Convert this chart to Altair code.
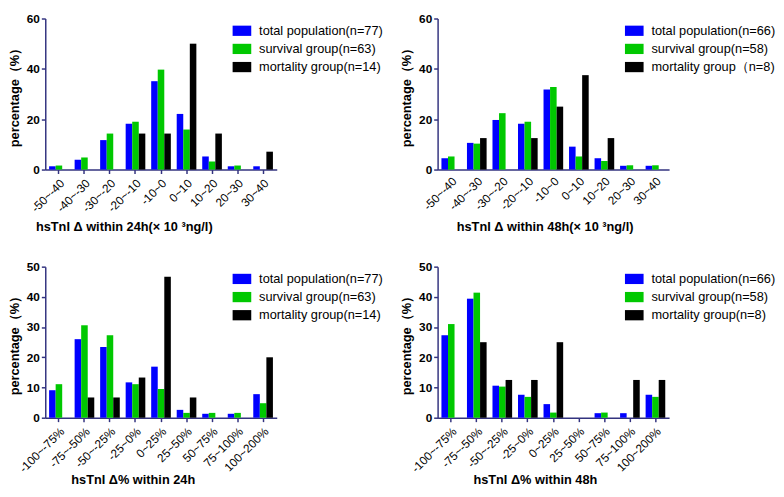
import altair as alt
import pandas as pd

cats_abs = ["-50~-40", "-40~-30", "-30~-20", "-20~-10", "-10~0", "0~10", "10~20", "20~30", "30~40"]
cats_pct = ["-100~-75%", "-75~-50%", "-50~-25%", "-25~0%", "0~25%", "25~50%", "50~75%", "75~100%", "100~200%"]

names_24 = ["total population(n=77)", "survival group(n=63)", "mortality group(n=14)"]
names_48 = ["total population(n=66)", "survival group(n=58)", "mortality group（n=8)"]
names_24p = ["total population(n=77)", "survival group(n=63)", "mortality group(n=14)"]
names_48p = ["total population(n=66)", "survival group(n=58)", "mortality group(n=8)"]

# panel 1: hsTnI delta within 24h
abs24_total = [1.3, 3.9, 11.7, 18.2, 35.1, 22.1, 5.2, 1.3, 1.3]
abs24_surv = [1.6, 4.8, 14.3, 19.0, 39.7, 15.9, 3.2, 1.6, 0.0]
abs24_mort = [0.0, 0.0, 0.0, 14.3, 14.3, 50.0, 14.3, 0.0, 7.1]

# panel 2: hsTnI delta within 48h
abs48_total = [4.5, 10.6, 19.7, 18.2, 31.8, 9.1, 4.5, 1.5, 1.5]
abs48_surv = [5.2, 10.3, 22.4, 19.0, 32.8, 5.2, 3.4, 1.7, 1.7]
abs48_mort = [0.0, 12.5, 0.0, 12.5, 25.0, 37.5, 12.5, 0.0, 0.0]

# panel 3: hsTnI delta% within 24h
pct24_total = [9.1, 26.0, 23.4, 11.7, 16.9, 2.6, 1.3, 1.3, 7.8]
pct24_surv = [11.1, 30.6, 27.3, 11.1, 9.5, 1.6, 1.6, 1.6, 4.8]
pct24_mort = [0.0, 6.7, 6.7, 13.3, 46.7, 6.7, 0.0, 0.0, 20.0]

# panel 4: hsTnI delta% within 48h
pct48_total = [27.3, 39.4, 10.6, 7.6, 4.5, 0.0, 1.5, 1.5, 7.6]
pct48_surv = [31.0, 41.4, 10.3, 6.9, 1.7, 0.0, 1.7, 0.0, 6.9]
pct48_mort = [0.0, 25.0, 12.5, 12.5, 25.0, 0.0, 0.0, 12.5, 12.5]

colors = ["#0000FF", "#00C800", "#000000"]
FONT = "Liberation Sans"
AXIS_COLOR = "#33337f"
W, H = 236, 154


def panel(cats, names, series, ymax, ystep, xtitle, title_x, title_y, xticks=True, label_pad=4):
    rows = []
    for name, vals in zip(names, series):
        for c, v in zip(cats, vals):
            rows.append({"cat": c, "grp": name, "val": v})
    df = pd.DataFrame(rows)
    yvals = list(range(0, ymax + 1, ystep))
    return alt.Chart(df).mark_bar().encode(
        x=alt.X("cat:N", sort=cats,
                scale=alt.Scale(paddingInner=0.23, paddingOuter=0.15),
                axis=alt.Axis(title=xtitle, labelAngle=-45, labelFontSize=12,
                              labelFont=FONT, labelColor="#000000",
                              ticks=xticks, tickSize=4, labelPadding=label_pad,
                              titleFont=FONT, titleFontSize=13, titleFontWeight="bold",
                              titleColor="#000000", titleAnchor="start",
                              titleX=title_x, titleY=title_y,
                              titleBaseline="middle", titleAlign="left")),
        xOffset=alt.XOffset("grp:N", sort=names,
                            scale=alt.Scale(paddingInner=0, paddingOuter=0)),
        y=alt.Y("val:Q", scale=alt.Scale(domain=[0, ymax], nice=False),
                axis=alt.Axis(title="percentage（%）", values=yvals, labelFontSize=12,
                              labelFontWeight="bold", labelFont=FONT, labelColor="#000000",
                              tickSize=4, labelPadding=2, titlePadding=5,
                              titleFont=FONT, titleFontSize=13, titleFontWeight="bold",
                              titleColor="#000000")),
        color=alt.Color("grp:N", sort=names,
                        scale=alt.Scale(domain=names, range=colors),
                        legend=alt.Legend(title=None, orient="none", legendX=191, legendY=3,
                                          symbolType="M-1,-0.55L1,-0.55L1,0.55L-1,0.55Z",
                                          symbolSize=361, symbolStrokeWidth=0,
                                          labelFontSize=13, labelFont=FONT,
                                          labelColor="#000000", labelOffset=8,
                                          rowPadding=1.5, padding=0)),
    ).properties(width=W, height=H)


p1 = panel(cats_abs, names_24, [abs24_total, abs24_surv, abs24_mort], 60, 20,
           "hsTnI Δ within 24h(× 10 ³ng/l)", -10, 58)
p2 = panel(cats_abs, names_48, [abs48_total, abs48_surv, abs48_mort], 60, 20,
           "hsTnI Δ within 48h(× 10 ³ng/l)", 19, 58, xticks=False, label_pad=6)
p3 = panel(cats_pct, names_24p, [pct24_total, pct24_surv, pct24_mort], 50, 10,
           "hsTnI Δ%  within 24h", 26, 63)
p4 = panel(cats_pct, names_48p, [pct48_total, pct48_surv, pct48_mort], 50, 10,
           "hsTnI Δ%  within 48h", 36, 63)

chart = alt.concat(p1, p2, p3, p4, columns=2,
                   spacing={"row": 99, "column": 164}, bounds="flush").resolve_scale(
    color="independent", x="independent", y="independent", xOffset="independent"
).resolve_legend(color="independent").properties(padding=0).configure_view(
    strokeWidth=0
).configure_axis(
    domainColor=AXIS_COLOR, tickColor=AXIS_COLOR, domainWidth=1.5, tickWidth=1.5, grid=False
)

chart.save("out.html", embed_options={"renderer": "svg", "actions": False})
